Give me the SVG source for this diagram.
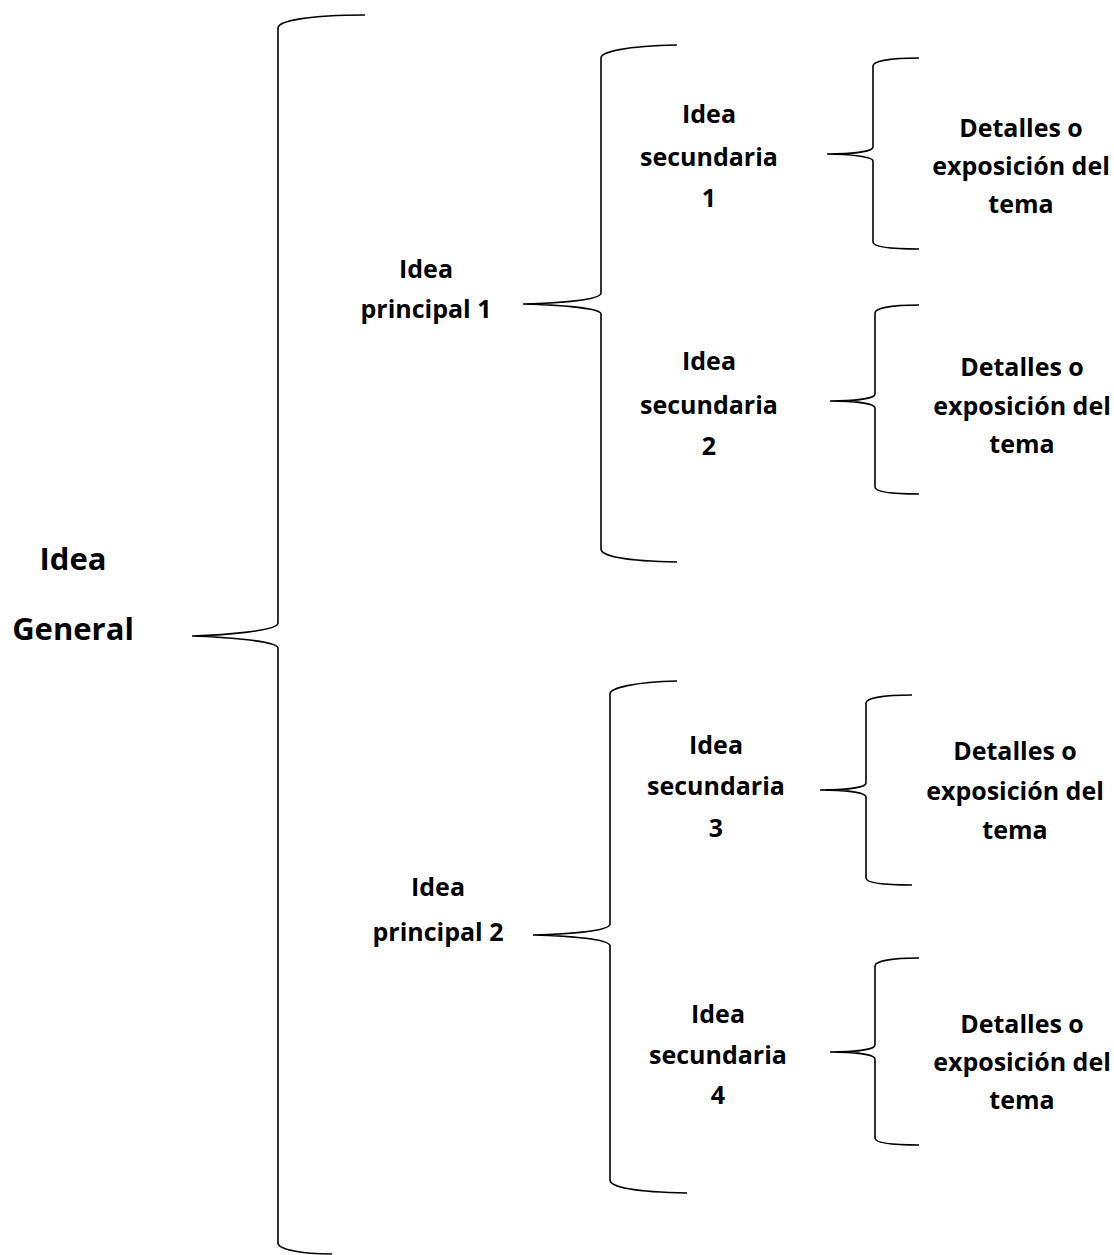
<svg xmlns="http://www.w3.org/2000/svg" width="1114" height="1255" viewBox="0 0 1114 1255">
<style>
.t{font-family:"Open Sans","Noto Sans","Liberation Sans",sans-serif;font-weight:bold;fill:#000;text-anchor:middle}
.s{font-size:25px}
.g{font-size:31px}
.b{fill:none;stroke:#000;stroke-width:1.6}
</style>
<rect width="1114" height="1255" fill="#fff"/>
<g id="connectors">
<path class="b" d="M365,15 C308,15 278,21 278,28 L278,623 C278,631 225,635 192,636 C225,637 278,641 278,648 L278,1243 C278,1249 300,1254 332,1254"/>
<path class="b" d="M677,45 C625,46 601,52 601,58 L601,293 C601,300 560,303 523,304 C560,305 601,308 601,314 L601,549 C601,556 625,561 677,562"/>
<path class="b" d="M677,681 C634,682 610,688 610,694 L610,924 C610,931 570,934 533,935 C570,936 610,939 610,946 L610,1180 C610,1187 634,1192 687,1193"/>
<path class="b" d="M919,58 C890,58 873,61 873,66 L873,147 C873,152 850,154 827,154 C850,154 873,157 873,161 L873,242 C873,247 890,249 919,249"/>
<path class="b" d="M919,305 C892,305 875,308 875,313 L875,394 C875,399 852,401 830,401 C852,401 875,403 875,408 L875,487 C875,492 892,494 919,494"/>
<path class="b" d="M912,695 C883,695 866,698 866,703 L866,783 C866,788 843,790 820,790 C843,790 866,792 866,797 L866,878 C866,883 883,885 912,885"/>
<path class="b" d="M919,958 C892,958 875,961 875,966 L875,1045 C875,1050 852,1052 830,1052 C852,1052 875,1054 875,1059 L875,1138 C875,1143 892,1145 919,1145"/>
</g>
<g id="idea-general"><text class="t g" x="73" y="570">Idea</text><text class="t g" x="73" y="640">General</text></g>
<g id="principal-1"><text class="t s" x="426" y="278">Idea</text><text class="t s" x="426" y="318">principal 1</text></g>
<g id="principal-2"><text class="t s" x="438" y="896">Idea</text><text class="t s" x="438" y="941">principal 2</text></g>
<g id="secundaria-1"><text class="t s" x="709" y="123">Idea</text><text class="t s" x="709" y="166">secundaria</text><text class="t s" x="709" y="207">1</text></g>
<g id="secundaria-2"><text class="t s" x="709" y="370">Idea</text><text class="t s" x="709" y="414">secundaria</text><text class="t s" x="709" y="455">2</text></g>
<g id="secundaria-3"><text class="t s" x="716" y="754">Idea</text><text class="t s" x="716" y="795">secundaria</text><text class="t s" x="716" y="837">3</text></g>
<g id="secundaria-4"><text class="t s" x="718" y="1023">Idea</text><text class="t s" x="718" y="1064">secundaria</text><text class="t s" x="718" y="1104">4</text></g>
<g id="detalles-1"><text class="t s" x="1021" y="137">Detalles o</text><text class="t s" x="1021" y="175">exposición del</text><text class="t s" x="1021" y="213">tema</text></g>
<g id="detalles-2"><text class="t s" x="1022" y="376">Detalles o</text><text class="t s" x="1022" y="415">exposición del</text><text class="t s" x="1022" y="453">tema</text></g>
<g id="detalles-3"><text class="t s" x="1015" y="760">Detalles o</text><text class="t s" x="1015" y="800">exposición del</text><text class="t s" x="1015" y="839">tema</text></g>
<g id="detalles-4"><text class="t s" x="1022" y="1033">Detalles o</text><text class="t s" x="1022" y="1071">exposición del</text><text class="t s" x="1022" y="1109">tema</text></g>
</svg>
